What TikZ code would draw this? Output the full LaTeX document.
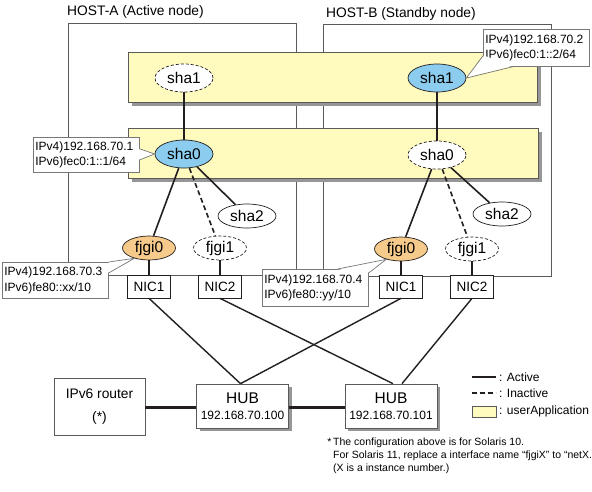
\documentclass[tikz,border=0pt]{standalone}
\usepackage{fontspec}
\setmainfont{Liberation Sans}
\usetikzlibrary{shapes.geometric, shadows, calc, positioning}
\definecolor{appyellow}{RGB}{255,250,190}
\definecolor{actblue}{RGB}{140,204,238}
\definecolor{nicorange}{RGB}{246,202,138}
\definecolor{boxgray}{RGB}{90,90,90}
\definecolor{labelgray}{RGB}{120,120,120}
\definecolor{shadowgray}{RGB}{150,150,150}
\definecolor{linkblack}{RGB}{35,31,32}

\newcommand{\nodetxt}{\fontsize{15.5}{17}\selectfont}
\newcommand{\midtxt}{\fontsize{13.5}{16}\selectfont}
\newcommand{\smalltxt}{\fontsize{12}{15.5}\selectfont}
\newcommand{\notetxt}{\fontsize{10.5}{13}\selectfont}

\begin{document}
\begin{tikzpicture}[x=1pt, y=-1pt,
    hostbox/.style={draw=boxgray, line width=0.7pt},
    appbox/.style={draw=boxgray, fill=appyellow, line width=0.7pt,
        drop shadow={shadow xshift=4pt, shadow yshift=-4pt, fill=shadowgray, opacity=1}},
    ifnode/.style={ellipse, draw=linkblack, line width=0.7pt, fill=white,
        minimum width=58pt, minimum height=28pt, inner sep=0pt, font=\nodetxt},
    ifact/.style={ifnode, fill=actblue},
    ifoff/.style={ifnode, dash pattern=on 3pt off 2pt},
    ifsub/.style={ifnode, minimum height=24pt},
    ifphy/.style={ifnode, minimum width=53pt, minimum height=24pt},
    nicbox/.style={rectangle, draw=linkblack, line width=0.7pt, fill=white,
        minimum width=43pt, minimum height=23pt, inner sep=0pt, font=\midtxt},
    hubbox/.style={rectangle, draw=boxgray, line width=0.7pt, fill=white,
        minimum width=92pt, minimum height=44pt, inner sep=0pt, align=center, font=\smalltxt,
        drop shadow={shadow xshift=3pt, shadow yshift=-3pt, fill=shadowgray, opacity=1}},
    iplabel/.style={rectangle, draw=labelgray, line width=0.7pt, fill=white, font=\smalltxt,
        align=left, text width=102pt, inner xsep=2pt, inner ysep=1pt, minimum height=35pt},
    tipline/.style={draw=labelgray, line width=0.7pt},
    link/.style={draw=linkblack, line width=1.6pt},
    linkoff/.style={link, dash pattern=on 5pt off 3pt},
    trunk/.style={draw=linkblack, line width=3pt}
]
    \useasboundingbox (0,0) rectangle (592,491);

    % hosts
    \node[anchor=west, font=\fontsize{13.8}{16}\selectfont, inner sep=0pt] (hostA) at (67,12) {HOST-A (Active node)};
    \node[anchor=west, font=\fontsize{13.8}{16}\selectfont, inner sep=0pt] (hostB) at (326,14) {HOST-B (Standby node)};
    \draw[hostbox] (68,23) rectangle (296,275);
    \draw[hostbox] (323,24) rectangle (551,276);

    % userApplication
    \draw[appbox] (128,52) rectangle (537,102);
    \draw[appbox] (128,128) rectangle (538,178);

    % virtual interfaces
    \node[ifoff] (sha1A) at (184,78) {sha1};
    \node[ifact] (sha1B) at (437,78) {sha1};
    \node[ifact] (sha0A) at (184,154) {sha0};
    \node[ifoff] (sha0B) at (437,155) {sha0};
    \node[ifsub] (sha2A) at (247,216) {sha2};
    \node[ifsub] (sha2B) at (502,214) {sha2};

    % physical interfaces and NICs
    \node[ifphy, fill=nicorange] (fjgi0A) at (149,248) {fjgi0};
    \node[ifphy, dash pattern=on 3pt off 2pt] (fjgi1A) at (220,248) {fjgi1};
    \node[ifphy, fill=nicorange] (fjgi0B) at (401,249) {fjgi0};
    \node[ifphy, dash pattern=on 3pt off 2pt] (fjgi1B) at (472,249) {fjgi1};
    \foreach \nic/\x/\lbl in {nic1A/149/NIC1, nic2A/220/NIC2, nic1B/401/NIC1, nic2B/472/NIC2} {
        \node[nicbox] (\nic) at (\x,286.5) {\lbl};
    }

    % links inside the hosts
    \draw[link] (sha1A) -- (sha0A);
    \draw[link] (sha1B) -- (sha0B);
    \foreach \h in {A,B} {
        \draw[link] (sha0\h) -- (fjgi0\h);
        \draw[linkoff] (sha0\h) -- (fjgi1\h);
        \draw[link] (sha0\h) -- (sha2\h);
        \draw[link] (fjgi0\h) -- (nic1\h);
        \draw[link] (fjgi1\h) -- (nic2\h);
    }

    % addresses
    \node[iplabel, anchor=north west] (ipA0) at (33,137) {IPv4)192.168.70.1\\IPv6)fec0:1::1/64};
    \fill[white] ($(ipA0.east)+(-1,-6)$) -- (sha0A.west) -- ($(ipA0.east)+(-1,5)$) -- cycle;
    \draw[tipline] ($(ipA0.east)+(0,-6)$) -- (sha0A.west) -- ($(ipA0.east)+(0,5)$);

    \node[iplabel, anchor=north west, minimum height=37pt] (ipB1) at (483,29) {IPv4)192.168.70.2\\IPv6)fec0:1::2/64};
    \fill[white] ($(ipB1.south west)+(1,-11)$) -- (sha1B.east) -- ($(ipB1.south west)+(30,-1)$) -- cycle;
    \draw[tipline] ($(ipB1.south west)+(0,-11)$) -- (sha1B.east) -- ($(ipB1.south west)+(30,0)$);

    \node[iplabel, anchor=north west, minimum height=36pt] (ipA3) at (2,262) {IPv4)192.168.70.3\\IPv6)fe80::xx/10};
    \fill[white] ($(ipA3.north east)+(-1,1)$) -- (fjgi0A.215) -- ($(ipA3.north east)+(-1,11)$) -- cycle;
    \draw[tipline] (ipA3.north east) -- (fjgi0A.215) -- ($(ipA3.north east)+(0,11)$);

    \node[iplabel, anchor=north west, minimum height=37pt] (ipB3) at (262,269) {IPv4)192.168.70.4\\IPv6)fe80::yy/10};
    \fill[white] ($(ipB3.north east)+(-31,1)$) -- (fjgi0B.215) -- ($(ipB3.north east)+(-1,4)$) -- cycle;
    \draw[tipline] ($(ipB3.north east)+(-31,0)$) -- (fjgi0B.215) -- ($(ipB3.north east)+(0,4)$);

    % network
    \node[rectangle, draw=boxgray, line width=0.7pt, fill=white, minimum width=91pt, minimum height=57pt,
        align=center, font=\fontsize{13.8}{23}\selectfont] (router) at (99.5,407) {IPv6 router\\(*)};
    \node[hubbox] (hubL) at (242.5,406) {{\nodetxt HUB}\\192.168.70.100};
    \node[hubbox] (hubR) at (391,406) {{\nodetxt HUB}\\192.168.70.101};
    \draw[trunk] (router.east) -- (router.east -| hubL.west);
    \draw[trunk] (hubL.east |- router.east) -- (hubR.west |- router.east);
    \draw[link, line width=1.4pt] (nic1A.south) -- ($(hubL.north)+(-2,0)$);
    \draw[link, line width=1.4pt] (nic1B.south) -- ($(hubL.north)+(-2,0)$);
    \draw[link, line width=1.4pt] (nic2A.south) -- ($(hubR.north)+(2,0)$);
    \draw[link, line width=1.4pt] (nic2B.south) -- ($(hubR.north)+(11,0)$);

    % legend
    \draw[link] (472,377) -- (496,377);
    \draw[linkoff, line width=1.4pt] (472,393) -- (496,393);
    \draw[draw=boxgray, fill=appyellow, line width=0.7pt] (472,406) rectangle (496,417);
    \node[anchor=west, font=\smalltxt, inner sep=0pt] (lgAct) at (499,377) {: Active};
    \node[anchor=west, font=\smalltxt, inner sep=0pt] (lgOff) at (499,393) {: Inactive};
    \node[anchor=west, font=\smalltxt, inner sep=0pt] (lgApp) at (499,411.5) {: userApplication};

    % note
    \node[anchor=west, font=\notetxt, align=left, inner sep=0pt] (note) at (333,456)
        {\llap{*\,}The configuration above is for Solaris 10.\\For Solaris 11, replace a interface name “fjgiX” to “netX.\\(X is a instance number.)};
\end{tikzpicture}
\end{document}
